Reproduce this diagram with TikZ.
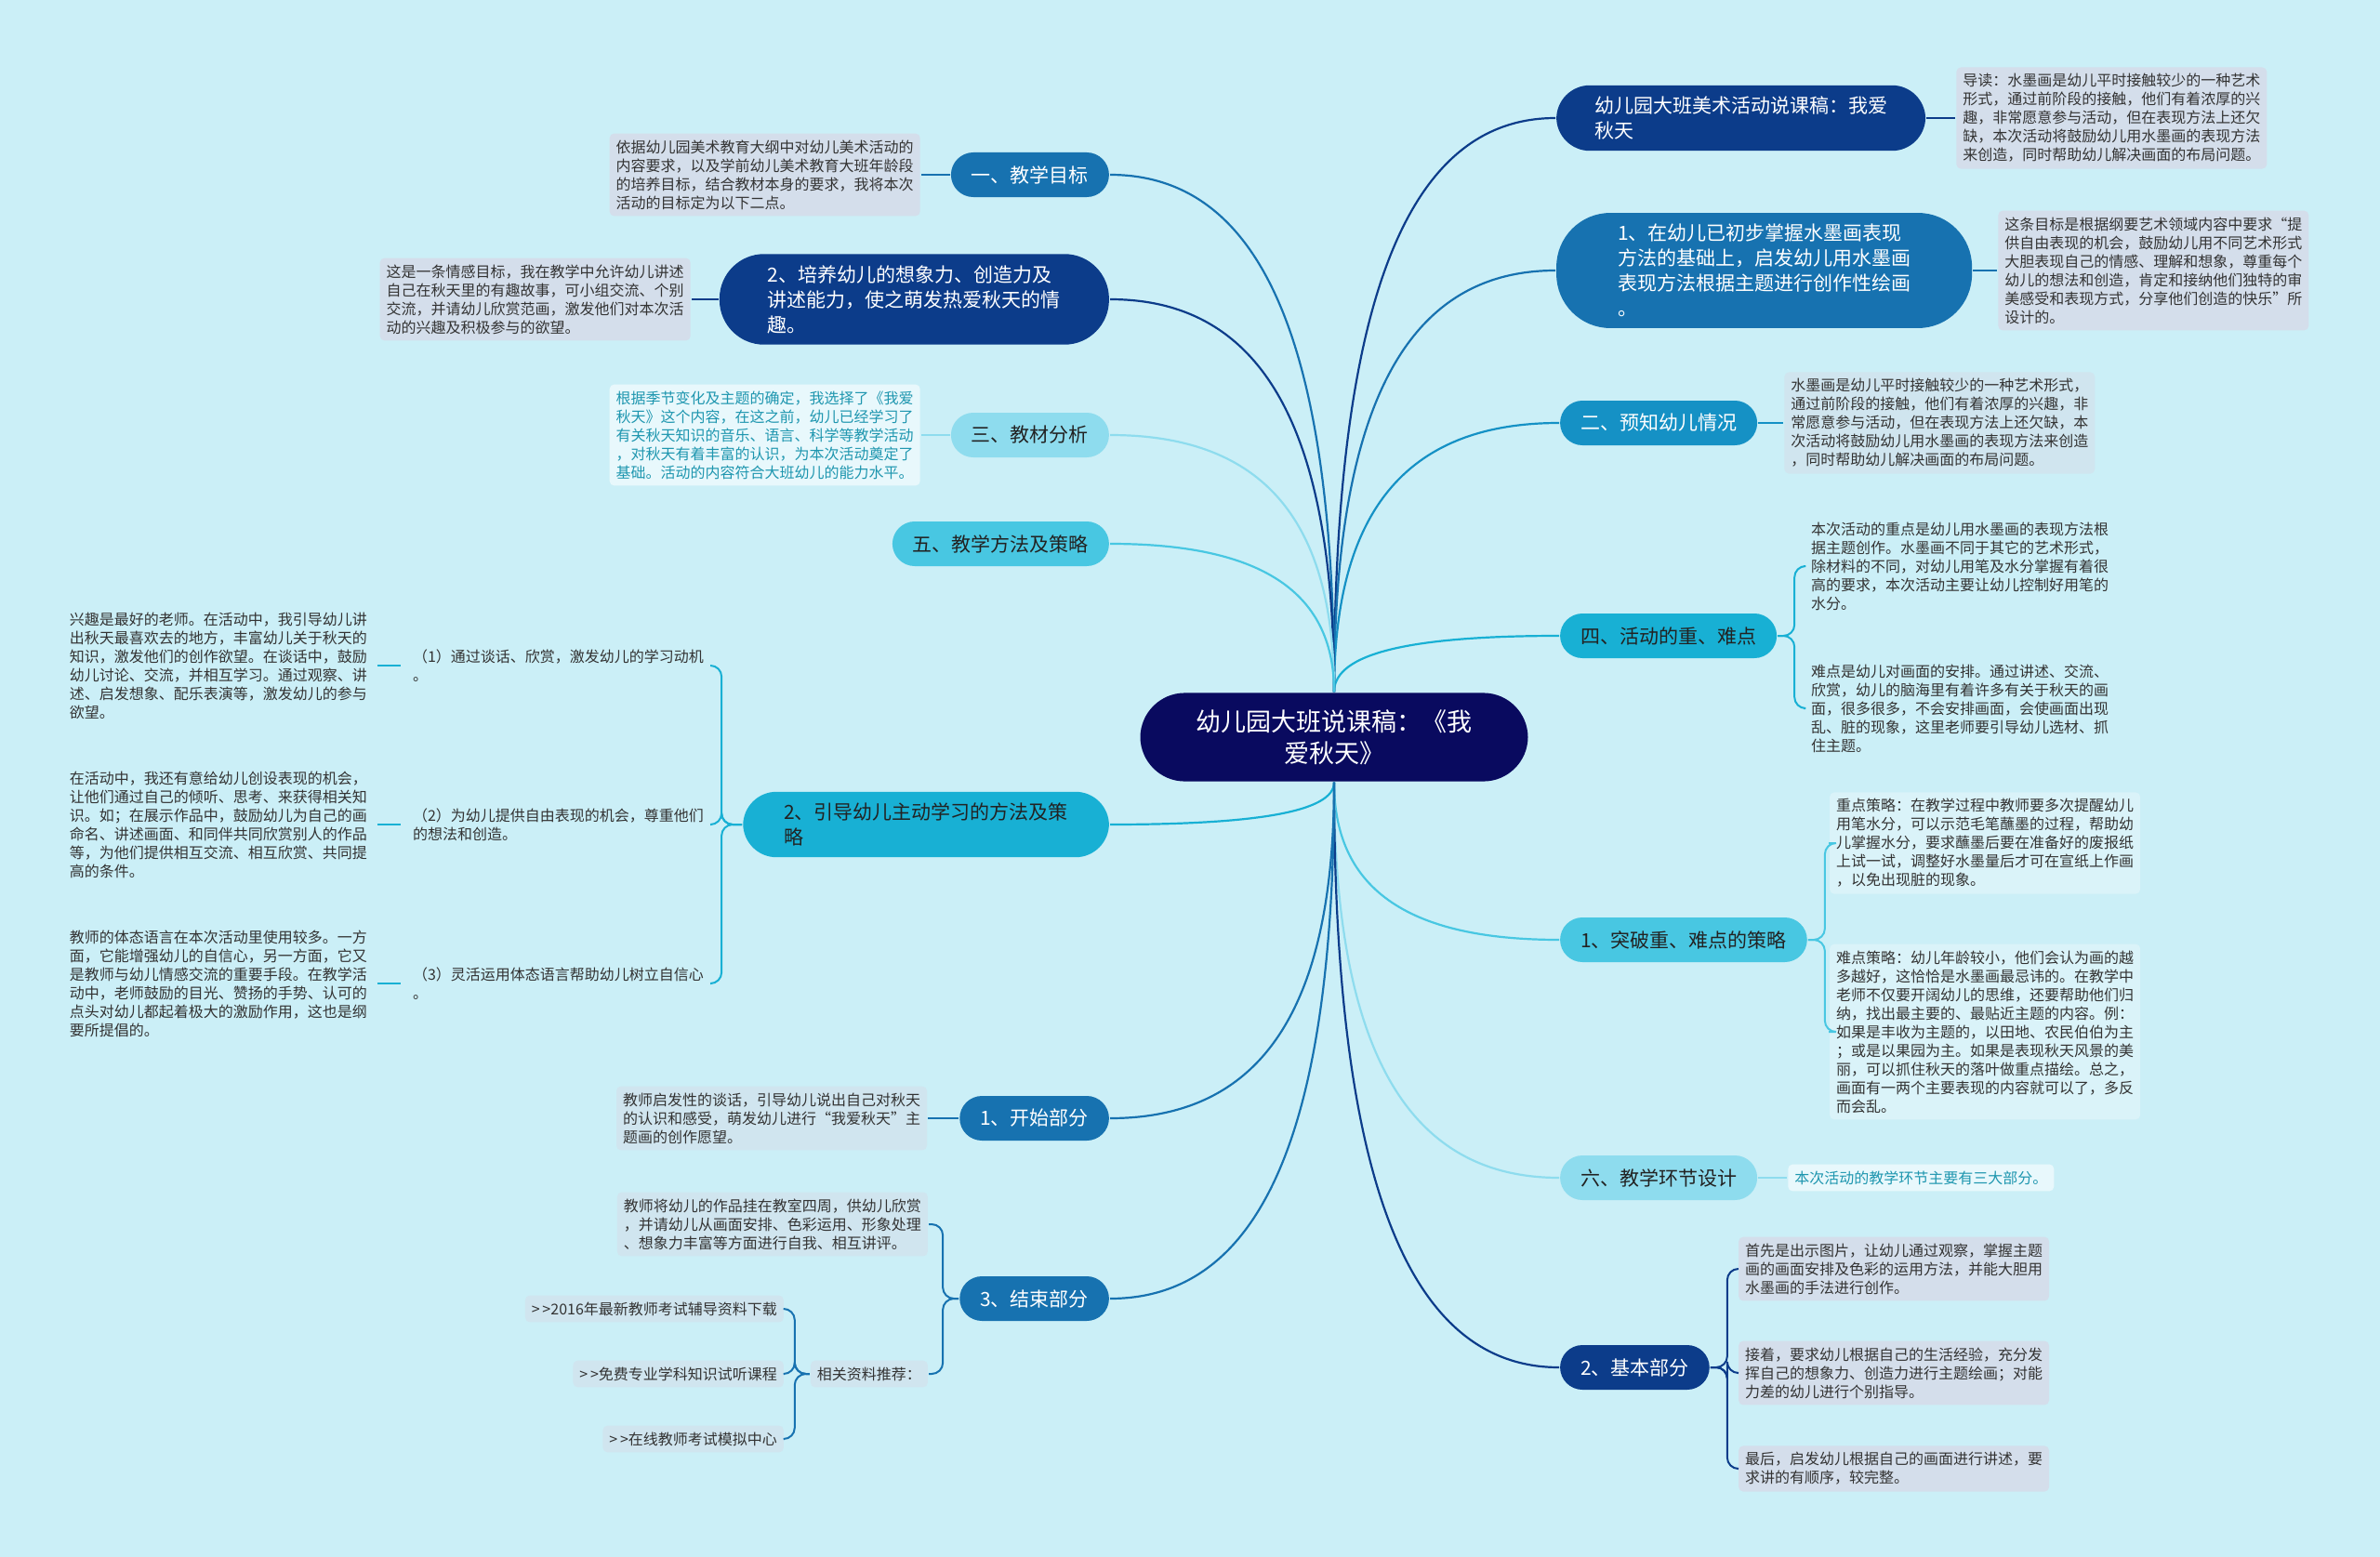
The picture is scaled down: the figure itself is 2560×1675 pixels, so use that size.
\documentclass[tikz,border=0pt]{standalone}
\usepackage{fontspec}
\setmainfont{Noto Sans CJK SC}
\usepackage{xcolor}
\usepackage{tikz}
\usetikzlibrary{positioning, calc}

\definecolor{paper}{RGB}{203,239,247}
\definecolor{navy}{RGB}{9,10,95}
\definecolor{deepblue}{RGB}{12,60,138}
\definecolor{midblue}{RGB}{23,114,176}
\definecolor{oceanblue}{RGB}{21,145,197}
\definecolor{cyanblue}{RGB}{24,176,212}
\definecolor{skyblue}{RGB}{72,199,226}
\definecolor{paleblue}{RGB}{142,220,238}
\definecolor{notegray}{RGB}{212,222,235}
\definecolor{notecyan}{RGB}{208,229,239}
\definecolor{notelight}{RGB}{218,243,249}
\definecolor{notepale}{RGB}{232,248,252}
\definecolor{ink}{RGB}{34,34,34}
\definecolor{inkgray}{RGB}{51,51,51}
\definecolor{tealink}{RGB}{30,150,175}

\begin{document}
\begin{tikzpicture}[
    x=1pt, y=-1pt,
    line width=2.2pt,
    % Dinh dang cac khoi
    root/.style={rounded corners=48pt, fill=navy, text=white, align=center, inner xsep=60pt, inner ysep=18pt, font=\fontsize{27}{34}\selectfont},
    topic/.style={rounded corners=24pt, align=left, minimum height=48pt, inner xsep=22pt, inner ysep=12pt, font=\fontsize{21}{27}\selectfont},
    note/.style={rounded corners=5pt, align=left, inner sep=7pt, text=inkgray, font=\fontsize{16}{20}\selectfont},
    limb/.style={to path={.. controls ($(\tikztostart)!0.7!(\tikztostart |- \tikztotarget)$) and ($(\tikztostart |- \tikztotarget)!0.35!(\tikztotarget)$) .. (\tikztotarget)}},
    fork/.style={rounded corners=12pt, line width=2pt},
    link/.style={line width=2pt}
  ]

  \fill[paper] (0,0) rectangle (2560,1675);
  \useasboundingbox (0,0) rectangle (2560,1675);

  % --- 1. CAC KHOI ---
  \node[root] (root) at (1435,793) {幼儿园大班说课稿：《我\\爱秋天》};

  % Nhanh phai
  \node[topic, fill=deepblue, text=white, anchor=west, inner xsep=41pt, rounded corners=36pt] (r1) at (1673,127) {幼儿园大班美术活动说课稿：我爱\\秋天};
  \node[note, fill=notegray, right=31pt of r1] (r1n) {
    导读：水墨画是幼儿平时接触较少的一种艺术\\
    形式，通过前阶段的接触，他们有着浓厚的兴\\
    趣，非常愿意参与活动，但在表现方法上还欠\\
    缺，本次活动将鼓励幼儿用水墨画的表现方法\\
    来创造，同时帮助幼儿解决画面的布局问题。};

  \node[topic, fill=midblue, text=white, anchor=west, inner xsep=66pt, rounded corners=58pt] (r2) at (1673,291) {1、在幼儿已初步掌握水墨画表现\\方法的基础上，启发幼儿用水墨画\\表现方法根据主题进行创作性绘画\\。};
  \node[note, fill=notegray, right=26pt of r2] (r2n) {
    这条目标是根据纲要艺术领域内容中要求“提\\
    供自由表现的机会，鼓励幼儿用不同艺术形式\\
    大胆表现自己的情感、理解和想象，尊重每个\\
    幼儿的想法和创造，肯定和接纳他们独特的审\\
    美感受和表现方式，分享他们创造的快乐”所\\
    设计的。};

  \node[topic, fill=oceanblue, text=white, anchor=west] (r3) at (1677,455) {二、预知幼儿情况};
  \node[note, fill=notecyan, right=27pt of r3] (r3n) {
    水墨画是幼儿平时接触较少的一种艺术形式，\\
    通过前阶段的接触，他们有着浓厚的兴趣，非\\
    常愿意参与活动，但在表现方法上还欠缺，本\\
    次活动将鼓励幼儿用水墨画的表现方法来创造\\
    ，同时帮助幼儿解决画面的布局问题。};

  \node[topic, fill=cyanblue, text=ink, anchor=west] (r4) at (1677,684) {四、活动的重、难点};
  \node[note, anchor=west] (r4a) at (1940,609) {
    本次活动的重点是幼儿用水墨画的表现方法根\\
    据主题创作。水墨画不同于其它的艺术形式，\\
    除材料的不同，对幼儿用笔及水分掌握有着很\\
    高的要求，本次活动主要让幼儿控制好用笔的\\
    水分。};
  \node[note, anchor=west] (r4b) at (1940,762) {
    难点是幼儿对画面的安排。通过讲述、交流、\\
    欣赏，幼儿的脑海里有着许多有关于秋天的画\\
    面，很多很多，不会安排画面，会使画面出现\\
    乱、脏的现象，这里老师要引导幼儿选材、抓\\
    住主题。};

  \node[topic, fill=skyblue, text=ink, anchor=west] (r5) at (1677,1011) {1、突破重、难点的策略};
  \node[note, fill=notelight, anchor=west] (r5a) at (1967,907) {
    重点策略：在教学过程中教师要多次提醒幼儿\\
    用笔水分，可以示范毛笔蘸墨的过程，帮助幼\\
    儿掌握水分，要求蘸墨后要在准备好的废报纸\\
    上试一试，调整好水墨量后才可在宣纸上作画\\
    ，以免出现脏的现象。};
  \node[note, fill=notelight, anchor=west] (r5b) at (1967,1110) {
    难点策略：幼儿年龄较小，他们会认为画的越\\
    多越好，这恰恰是水墨画最忌讳的。在教学中\\
    老师不仅要开阔幼儿的思维，还要帮助他们归\\
    纳，找出最主要的、最贴近主题的内容。例：\\
    如果是丰收为主题的，以田地、农民伯伯为主\\
    ；或是以果园为主。如果是表现秋天风景的美\\
    丽，可以抓住秋天的落叶做重点描绘。总之，\\
    画面有一两个主要表现的内容就可以了，多反\\
    而会乱。};

  \node[topic, fill=paleblue, text=ink, anchor=west] (r6) at (1677,1267) {六、教学环节设计};
  \node[note, fill=notepale, text=tealink, right=31pt of r6] (r6n) {本次活动的教学环节主要有三大部分。};

  \node[topic, fill=deepblue, text=white, anchor=west] (r7) at (1677,1471) {2、基本部分};
  \node[note, fill=notegray, anchor=west] (r7a) at (1869,1365) {
    首先是出示图片，让幼儿通过观察，掌握主题\\
    画的画面安排及色彩的运用方法，并能大胆用\\
    水墨画的手法进行创作。};
  \node[note, fill=notegray, anchor=west] (r7b) at (1869,1477) {
    接着，要求幼儿根据自己的生活经验，充分发\\
    挥自己的想象力、创造力进行主题绘画；对能\\
    力差的幼儿进行个别指导。};
  \node[note, fill=notegray, anchor=west] (r7c) at (1869,1580) {
    最后，启发幼儿根据自己的画面进行讲述，要\\
    求讲的有顺序，较完整。};

  % Nhanh trai
  \node[topic, fill=midblue, text=white, anchor=east] (l1) at (1194,188) {一、教学目标};
  \node[note, fill=notegray, left=31pt of l1] (l1n) {
    依据幼儿园美术教育大纲中对幼儿美术活动的\\
    内容要求，以及学前幼儿美术教育大班年龄段\\
    的培养目标，结合教材本身的要求，我将本次\\
    活动的目标定为以下二点。};

  \node[topic, fill=deepblue, text=white, anchor=east, inner xsep=52pt, rounded corners=48pt] (l2) at (1194,322) {2、培养幼儿的想象力、创造力及\\讲述能力，使之萌发热爱秋天的情\\趣。};
  \node[note, fill=notegray, left=29pt of l2] (l2n) {
    这是一条情感目标，我在教学中允许幼儿讲述\\
    自己在秋天里的有趣故事，可小组交流、个别\\
    交流，并请幼儿欣赏范画，激发他们对本次活\\
    动的兴趣及积极参与的欲望。};

  \node[topic, fill=paleblue, text=ink, anchor=east] (l3) at (1194,468) {三、教材分析};
  \node[note, fill=notepale, text=tealink, left=31pt of l3] (l3n) {
    根据季节变化及主题的确定，我选择了《我爱\\
    秋天》这个内容，在这之前，幼儿已经学习了\\
    有关秋天知识的音乐、语言、科学等教学活动\\
    ，对秋天有着丰富的认识，为本次活动奠定了\\
    基础。活动的内容符合大班幼儿的能力水平。};

  \node[topic, fill=skyblue, text=ink, anchor=east] (l4) at (1194,585) {五、教学方法及策略};

  \node[topic, fill=cyanblue, text=ink, anchor=east, inner xsep=44pt, rounded corners=36pt] (l5) at (1194,887) {2、引导幼儿主动学习的方法及策\\略};
  \node[note, anchor=east] (l5a) at (765,716) {（1）通过谈话、欣赏，激发幼儿的学习动机\\。};
  \node[note, anchor=east] (l5b) at (765,887) {（2）为幼儿提供自由表现的机会，尊重他们\\的想法和创造。};
  \node[note, anchor=east] (l5c) at (765,1058) {（3）灵活运用体态语言帮助幼儿树立自信心\\。};
  \node[note, left=33pt of l5a] (l5an) {
    兴趣是最好的老师。在活动中，我引导幼儿讲\\
    出秋天最喜欢去的地方，丰富幼儿关于秋天的\\
    知识，激发他们的创作欲望。在谈话中，鼓励\\
    幼儿讨论、交流，并相互学习。通过观察、讲\\
    述、启发想象、配乐表演等，激发幼儿的参与\\
    欲望。};
  \node[note, left=33pt of l5b] (l5bn) {
    在活动中，我还有意给幼儿创设表现的机会，\\
    让他们通过自己的倾听、思考、来获得相关知\\
    识。如；在展示作品中，鼓励幼儿为自己的画\\
    命名、讲述画面、和同伴共同欣赏别人的作品\\
    等，为他们提供相互交流、相互欣赏、共同提\\
    高的条件。};
  \node[note, left=33pt of l5c] (l5cn) {
    教师的体态语言在本次活动里使用较多。一方\\
    面，它能增强幼儿的自信心，另一方面，它又\\
    是教师与幼儿情感交流的重要手段。在教学活\\
    动中，老师鼓励的目光、赞扬的手势、认可的\\
    点头对幼儿都起着极大的激励作用，这也是纲\\
    要所提倡的。};

  \node[topic, fill=midblue, text=white, anchor=east] (l6) at (1194,1203) {1、开始部分};
  \node[note, fill=notecyan, left=33pt of l6] (l6n) {
    教师启发性的谈话，引导幼儿说出自己对秋天\\
    的认识和感受，萌发幼儿进行“我爱秋天”主\\
    题画的创作愿望。};

  \node[topic, fill=midblue, text=white, anchor=east] (l7) at (1194,1397) {3、结束部分};
  \node[note, fill=notecyan, anchor=east] (l7a) at (999,1317) {
    教师将幼儿的作品挂在教室四周，供幼儿欣赏\\
    ，并请幼儿从画面安排、色彩运用、形象处理\\
    、想象力丰富等方面进行自我、相互讲评。};
  \node[note, fill=notecyan, anchor=east] (l7b) at (999,1478) {相关资料推荐：};
  \node[note, fill=notecyan, anchor=east] (l7b1) at (844,1408) {>\,>2016年最新教师考试辅导资料下载};
  \node[note, fill=notecyan, anchor=east] (l7b2) at (844,1478) {>\,>免费专业学科知识试听课程};
  \node[note, fill=notecyan, anchor=east] (l7b3) at (844,1548) {>\,>在线教师考试模拟中心};

  % --- 2. DUONG NOI TU GOC ---
  \draw[deepblue] (root.north) to[limb] (r1.west);
  \draw[midblue] (root.north) to[limb] (r2.west);
  \draw[oceanblue] (root.north) to[limb] (r3.west);
  \draw[cyanblue] (root.north) to[limb] (r4.west);
  \draw[skyblue] (root.south) to[limb] (r5.west);
  \draw[paleblue] (root.south) to[limb] (r6.west);
  \draw[deepblue] (root.south) to[limb] (r7.west);
  \draw[midblue] (root.north) to[limb] (l1.east);
  \draw[deepblue] (root.north) to[limb] (l2.east);
  \draw[paleblue] (root.north) to[limb] (l3.east);
  \draw[skyblue] (root.north) to[limb] (l4.east);
  \draw[cyanblue] (root.south) to[limb] (l5.east);
  \draw[midblue] (root.south) to[limb] (l6.east);
  \draw[midblue] (root.south) to[limb] (l7.east);

  % Ghi chu
  \draw[link, deepblue] (r1.east) -- (r1n.west);
  \draw[link, midblue] (r2.east) -- (r2n.west);
  \draw[link, oceanblue] (r3.east) -- (r3n.west);
  \draw[link, paleblue] (r6.east) -- (r6n.west);
  \draw[link, midblue] (l1.west) -- (l1n.east);
  \draw[link, deepblue] (l2.west) -- (l2n.east);
  \draw[link, paleblue] (l3.west) -- (l3n.east);
  \draw[link, midblue] (l6.west) -- (l6n.east);

  % Nhanh con (ngoac)
  \draw[fork, cyanblue] (r4.east) -- ++(18,0) |- (r4a.west);
  \draw[fork, cyanblue] (r4.east) -- ++(18,0) |- (r4b.west);
  \draw[fork, skyblue] (r5.east) -- ++(18,0) |- (r5a.west);
  \draw[fork, skyblue] (r5.east) -- ++(18,0) |- (r5b.west);
  \draw[fork, deepblue] (r7.east) -- ++(18,0) |- (r7a.west);
  \draw[fork, deepblue] (r7.east) -- ++(18,0) |- (r7b.west);
  \draw[fork, deepblue] (r7.east) -- ++(18,0) |- (r7c.west);
  \draw[fork, cyanblue] (l5.west) -- ++(-22,0) |- (l5a.east);
  \draw[fork, cyanblue] (l5.west) -- ++(-22,0) |- (l5b.east);
  \draw[fork, cyanblue] (l5.west) -- ++(-22,0) |- (l5c.east);
  \draw[link, cyanblue, shorten <=3pt, shorten >=5pt] (l5an.east) -- (l5an.east -| l5a.west);
  \draw[link, cyanblue, shorten <=3pt, shorten >=5pt] (l5bn.east) -- (l5bn.east -| l5b.west);
  \draw[link, cyanblue, shorten <=3pt, shorten >=5pt] (l5cn.east) -- (l5cn.east -| l5c.west);
  \draw[fork, midblue] (l7.west) -- ++(-17,0) |- (l7a.east);
  \draw[fork, midblue] (l7.west) -- ++(-17,0) |- (l7b.east);
  \draw[fork, midblue] (l7b.west) -- ++(-16,0) |- (l7b1.east);
  \draw[fork, midblue] (l7b.west) -- ++(-16,0) |- (l7b2.east);
  \draw[fork, midblue] (l7b.west) -- ++(-16,0) |- (l7b3.east);

\end{tikzpicture}
\end{document}
